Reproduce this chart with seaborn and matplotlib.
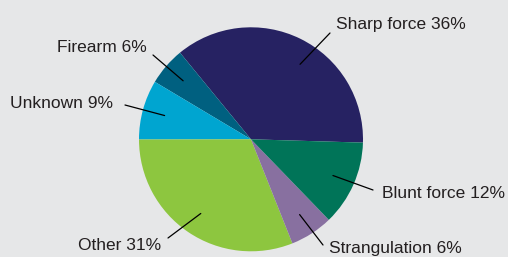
import numpy as np
import seaborn as sns
import matplotlib.pyplot as plt

# share of homicides by method (%)
methods = ['Sharp force', 'Firearm', 'Unknown', 'Other', 'Strangulation', 'Blunt force']
shares = [36.4, 5.5, 8.6, 31.0, 6.2, 12.3]
shown = [36, 6, 9, 31, 6, 12]
colors = ['#262262', '#006080', '#00a5d0', '#8dc63f', '#8870a0', '#007458']

bg = '#e6e7e8'
sns.set_theme(style='white', rc={'figure.facecolor': bg, 'axes.facecolor': bg})
plt.rcParams['font.family'] = ['Liberation Sans', 'DejaVu Sans']

fig = plt.figure(figsize=(5.08, 2.57), dpi=100)
ax = fig.add_axes([0, 0, 1, 1])

wedges, _ = ax.pie(shares, colors=colors, startangle=-1.7, counterclock=True,
                   wedgeprops=dict(linewidth=0))

R = 112.0  # pie radius in px
cx, cy = 251, 139.3
ax.set_xlim(-cx / R, (508 - cx) / R)
ax.set_ylim(-(257 - cy) / R, cy / R)
ax.axis('off')

def px(x, y):
    return (x - cx) / R, (cy - y) / R

# leader line end and label anchor, in pixels of the 508x257 canvas
line_end = [(330, 33), (153, 55), (125, 105), (168, 238), (323, 245), (373, 190)]
text_at = [(336, 25), (147, 47), (113, 104), (161, 245), (329, 248), (382, 193)]
angle_fix = [-7, 0, 0, 0, 0, 0]

for w, name, pct, le, ta, fix in zip(wedges, methods, shown, line_end, text_at, angle_fix):
    mid = np.deg2rad((w.theta1 + w.theta2) / 2 + fix)
    x0, y0 = 0.8 * np.cos(mid), 0.8 * np.sin(mid)
    x1, y1 = px(*le)
    ax.plot([x0, x1], [y0, y1], color='black', lw=0.9)
    tx, ty = px(*ta)
    ha = 'left' if tx > 0 else 'right'
    ax.text(tx, ty, f'{name} {pct}%', ha=ha, va='center', fontsize=12.5,
            color='#231f20')

fig.savefig('out.png', dpi=100, facecolor=bg)
